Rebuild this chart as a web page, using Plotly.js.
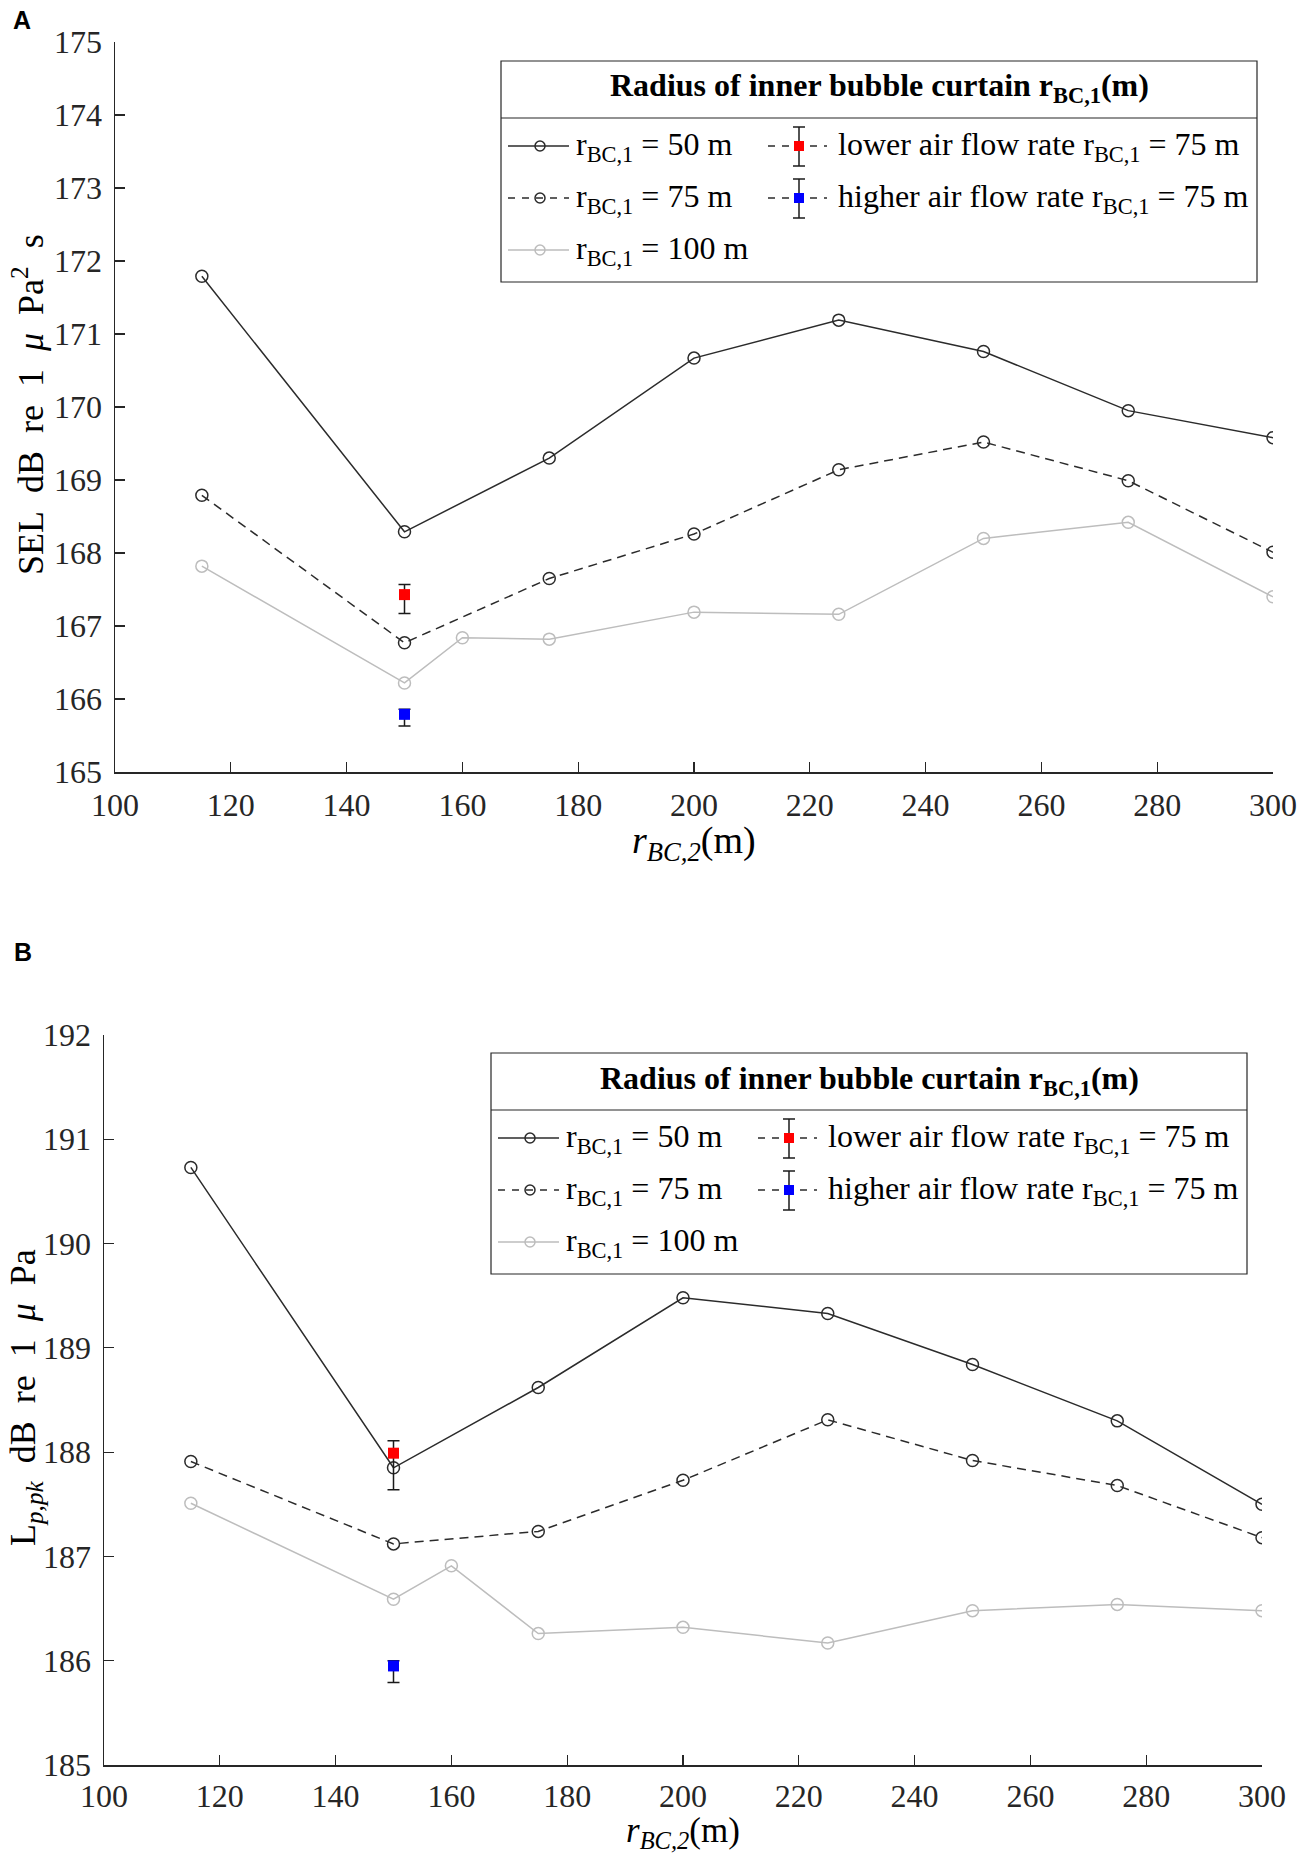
<!DOCTYPE html>
<html>
<head>
<meta charset="utf-8">
<script src="https://cdn.plot.ly/plotly-3.0.1.min.js"></script>
<style>html,body{margin:0;padding:0;background:#fff;}#chart{width:1299px;height:1857px;}</style>
</head>
<body>
<div id="chart"></div>
<script>
// ---------------- data ----------------
var rBC2 = [115, 150, 175, 200, 225, 250, 275, 300];
var rBC2_100 = [115, 150, 160, 175, 200, 225, 250, 275, 300];
var xTicks = [100, 120, 140, 160, 180, 200, 220, 240, 260, 280, 300];

// Panel A: SEL dB re 1 uPa^2 s
var sel50  = [171.79, 168.29, 169.30, 170.67, 171.19, 170.76, 169.95, 169.58];
var sel75  = [168.79, 166.77, 167.65, 168.26, 169.14, 169.52, 168.99, 168.01];
var sel100 = [167.82, 166.22, 166.84, 166.82, 167.19, 167.16, 168.20, 168.42, 167.40];
var selLowX = [150], selLow = [167.43], selLowPlus = [0.14], selLowMinus = [0.26];
var selHighX = [150], selHigh = [165.79], selHighPlus = [0.07], selHighMinus = [0.16];
var selTicks = [165, 166, 167, 168, 169, 170, 171, 172, 173, 174, 175];

// Panel B: Lp,pk dB re 1 uPa
var pk50  = [190.73, 187.85, 188.62, 189.48, 189.33, 188.84, 188.30, 187.50];
var pk75  = [187.91, 187.12, 187.24, 187.73, 188.31, 187.92, 187.68, 187.18];
var pk100 = [187.51, 186.59, 186.91, 186.26, 186.32, 186.17, 186.48, 186.54, 186.48];
var pkLowX = [150], pkLow = [187.99], pkLowPlus = [0.12], pkLowMinus = [0.35];
var pkHighX = [150], pkHigh = [185.95], pkHighPlus = [0.05], pkHighMinus = [0.16];
var pkTicks = [185, 186, 187, 188, 189, 190, 191, 192];

var legendNames = ['r<sub>BC,1</sub> = 50 m', 'r<sub>BC,1</sub> = 75 m', 'r<sub>BC,1</sub> = 100 m',
                   'lower air flow rate r<sub>BC,1</sub> = 75 m', 'higher air flow rate r<sub>BC,1</sub> = 75 m'];
var legendTitle = '<b>Radius of inner bubble curtain r<sub>BC,1</sub>(m)</b>';
var SP = '\u2002';
var yTitleA = 'SEL' + SP + 'dB' + SP + 're' + SP + '1' + SP + '<i>μ</i>' + SP + 'Pa<sup>2</sup>' + SP + 's';
var yTitleB = 'L<sub><i>p,pk</i></sub>' + SP + 'dB' + SP + 're' + SP + '1' + SP + '<i>μ</i>' + SP + 'Pa';
var xTitle = '<i>r<sub>BC,2</sub></i>(m)';

// ---------------- styling ----------------
var W = 1299, H = 1857;
function X(px){ return px / W; }
function Y(py){ return 1 - py / H; }
var SERIF = 'Liberation Serif, Times New Roman, serif';
var AX = '#262626';
var C50 = '#2b2b2b', C75 = '#2b2b2b', C100 = '#bdbdbd';
var DASH = '9px,6px';

function lineTrace(x, y, color, dash, xa, ya, name){
  return {x:x, y:y, type:'scatter', mode:'lines+markers', name:name, showlegend:false,
    xaxis:xa, yaxis:ya,
    line:{color:color, width:1.5, dash:dash},
    marker:{symbol:'circle-open', size:12, color:color, line:{width:1.5, color:color}}};
}
function errTrace(x, y, plus, minus, color, xa, ya, name){
  return {x:x, y:y, type:'scatter', mode:'markers', name:name, showlegend:false,
    xaxis:xa, yaxis:ya,
    marker:{symbol:'square', size:11, color:color, line:{width:0}},
    error_y:{type:'data', symmetric:false, array:plus, arrayminus:minus, color:'#1a1a1a', thickness:1.5, width:6}};
}

var traces = [
  lineTrace(rBC2, sel50, C50, 'solid', 'x', 'y', 'r50'),
  lineTrace(rBC2, sel75, C75, DASH, 'x', 'y', 'r75'),
  lineTrace(rBC2_100, sel100, C100, 'solid', 'x', 'y', 'r100'),
  errTrace(selLowX, selLow, selLowPlus, selLowMinus, '#ff0000', 'x', 'y', 'low'),
  errTrace(selHighX, selHigh, selHighPlus, selHighMinus, '#0000ff', 'x', 'y', 'high'),
  lineTrace(rBC2, pk50, C50, 'solid', 'x2', 'y2', 'r50'),
  lineTrace(rBC2, pk75, C75, DASH, 'x2', 'y2', 'r75'),
  lineTrace(rBC2_100, pk100, C100, 'solid', 'x2', 'y2', 'r100'),
  errTrace(pkLowX, pkLow, pkLowPlus, pkLowMinus, '#ff0000', 'x2', 'y2', 'low'),
  errTrace(pkHighX, pkHigh, pkHighPlus, pkHighMinus, '#0000ff', 'x2', 'y2', 'high')
];

function xAxis(d0, d1, anchor, standoff){
  return {domain:[X(d0), X(d1)], range:[100, 300], anchor:anchor,
    tickmode:'array', tickvals:xTicks, ticktext:xTicks.map(String),
    ticks:'inside', ticklen:10, tickwidth:1.2, tickcolor:AX,
    showline:true, linecolor:AX, linewidth:1.5, mirror:false,
    showgrid:false, zeroline:false, ticklabelstandoff:standoff,
    tickfont:{family:SERIF, size:32, color:AX}};
}
function yAxis(top, bot, range, ticks, anchor){
  return {domain:[Y(bot), Y(top)], range:range, anchor:anchor,
    tickmode:'array', tickvals:ticks, ticktext:ticks.map(String),
    ticks:'inside', ticklen:10, tickwidth:1.2, tickcolor:AX,
    showline:true, linecolor:AX, linewidth:1.5, mirror:false,
    showgrid:false, zeroline:false, ticklabelstandoff:5,
    tickfont:{family:SERIF, size:32, color:AX}};
}

var shapes = [], annotations = [];

function legend(dx, dy){
  var L = 501 + dx, R = 1257 + dx, T = 61 + dy, B = 282 + dy, D = 118 + dy;
  shapes.push({type:'rect', xref:'paper', yref:'paper', x0:X(L), x1:X(R), y0:Y(B), y1:Y(T),
    line:{color:AX, width:1.2}, fillcolor:'#ffffff', layer:'above'});
  shapes.push({type:'line', xref:'paper', yref:'paper', x0:X(L), x1:X(R), y0:Y(D), y1:Y(D),
    line:{color:AX, width:1.2}, layer:'above'});
  annotations.push({xref:'paper', yref:'paper', x:X((L+R)/2), y:Y(88+dy), xanchor:'center', yanchor:'middle',
    text:legendTitle, showarrow:false, font:{family:SERIF, size:32, color:'#000'}});
  var rows = [146, 198, 250];
  var c1 = [508, 569, 540, 574];
  var styles = [[C50,'solid'], [C75, '7px,7px'], [C100,'solid']];
  for (var i = 0; i < 3; i++){
    var yy = rows[i] + dy;
    shapes.push({type:'line', xref:'paper', yref:'paper', x0:X(c1[0]+dx), x1:X(c1[1]+dx), y0:Y(yy), y1:Y(yy),
      line:{color:styles[i][0], width:1.5, dash:styles[i][1]}, layer:'above'});
    shapes.push({type:'circle', xref:'paper', yref:'paper', x0:X(c1[2]-5+dx), x1:X(c1[2]+5+dx), y0:Y(yy+5), y1:Y(yy-5),
      line:{color:styles[i][0], width:1.5}, fillcolor:'rgba(0,0,0,0)', layer:'above'});
    annotations.push({xref:'paper', yref:'paper', x:X(c1[3]+dx), y:Y(yy), xanchor:'left', yanchor:'middle',
      text:legendNames[i], showarrow:false, font:{family:SERIF, size:32, color:'#000'}});
  }
  var c2 = [768, 827, 799, 836];
  var cols = ['#ff0000', '#0000ff'];
  for (var j = 0; j < 2; j++){
    var y2 = rows[j] + dy;
    shapes.push({type:'line', xref:'paper', yref:'paper', x0:X(c2[0]+dx), x1:X(c2[1]+dx), y0:Y(y2), y1:Y(y2),
      line:{color:'#2b2b2b', width:1.5, dash:'7px,7px'}, layer:'above'});
    shapes.push({type:'line', xref:'paper', yref:'paper', x0:X(c2[2]+dx), x1:X(c2[2]+dx), y0:Y(y2-19), y1:Y(y2+20),
      line:{color:'#1a1a1a', width:1.5}, layer:'above'});
    shapes.push({type:'line', xref:'paper', yref:'paper', x0:X(c2[2]-6+dx), x1:X(c2[2]+6+dx), y0:Y(y2-19), y1:Y(y2-19),
      line:{color:'#1a1a1a', width:1.5}, layer:'above'});
    shapes.push({type:'line', xref:'paper', yref:'paper', x0:X(c2[2]-6+dx), x1:X(c2[2]+6+dx), y0:Y(y2+20), y1:Y(y2+20),
      line:{color:'#1a1a1a', width:1.5}, layer:'above'});
    shapes.push({type:'rect', xref:'paper', yref:'paper', x0:X(c2[2]-5+dx), x1:X(c2[2]+5+dx), y0:Y(y2+5), y1:Y(y2-5),
      line:{width:0}, fillcolor:cols[j], layer:'above'});
    annotations.push({xref:'paper', yref:'paper', x:X(c2[3]+dx), y:Y(y2), xanchor:'left', yanchor:'middle',
      text:legendNames[3+j], showarrow:false, font:{family:SERIF, size:32, color:'#000'}});
  }
}
legend(0, 0);
legend(-10, 992);

// panel labels
annotations.push({xref:'paper', yref:'paper', x:X(11), y:Y(4), xanchor:'left', yanchor:'top', text:'<b>A</b>',
  showarrow:false, font:{family:'Liberation Sans, Arial, sans-serif', size:25, color:'#000'}});
annotations.push({xref:'paper', yref:'paper', x:X(12), y:Y(936), xanchor:'left', yanchor:'top', text:'<b>B</b>',
  showarrow:false, font:{family:'Liberation Sans, Arial, sans-serif', size:25, color:'#000'}});

// axis titles
annotations.push({xref:'paper', yref:'paper', x:X(29), y:Y(405), xanchor:'center', yanchor:'middle', textangle:-90,
  text:yTitleA, showarrow:false, font:{family:SERIF, size:36, color:'#000'}});
annotations.push({xref:'paper', yref:'paper', x:X(694), y:Y(843), xanchor:'center', yanchor:'middle',
  text:xTitle, showarrow:false, font:{family:SERIF, size:38, color:'#000'}});
annotations.push({xref:'paper', yref:'paper', x:X(25), y:Y(1398), xanchor:'center', yanchor:'middle', textangle:-90,
  text:yTitleB, showarrow:false, font:{family:SERIF, size:36, color:'#000'}});
annotations.push({xref:'paper', yref:'paper', x:X(683), y:Y(1856), xanchor:'center', yanchor:'bottom',
  text:xTitle, showarrow:false, font:{family:SERIF, size:35, color:'#000'}});

var layout = {
  width:W, height:H, margin:{l:0, r:0, t:0, b:0, pad:0, autoexpand:false},
  paper_bgcolor:'#ffffff', plot_bgcolor:'#ffffff', showlegend:false,
  xaxis: xAxis(115, 1273, 'y', 4),
  yaxis: yAxis(42, 772, [165, 175], selTicks, 'x'),
  xaxis2: xAxis(104, 1262, 'y2', 2),
  yaxis2: yAxis(1035, 1765, [185, 192], pkTicks, 'x2'),
  shapes:shapes, annotations:annotations
};
Plotly.newPlot('chart', traces, layout, {staticPlot:true, displayModeBar:false});
</script>
</body>
</html>
